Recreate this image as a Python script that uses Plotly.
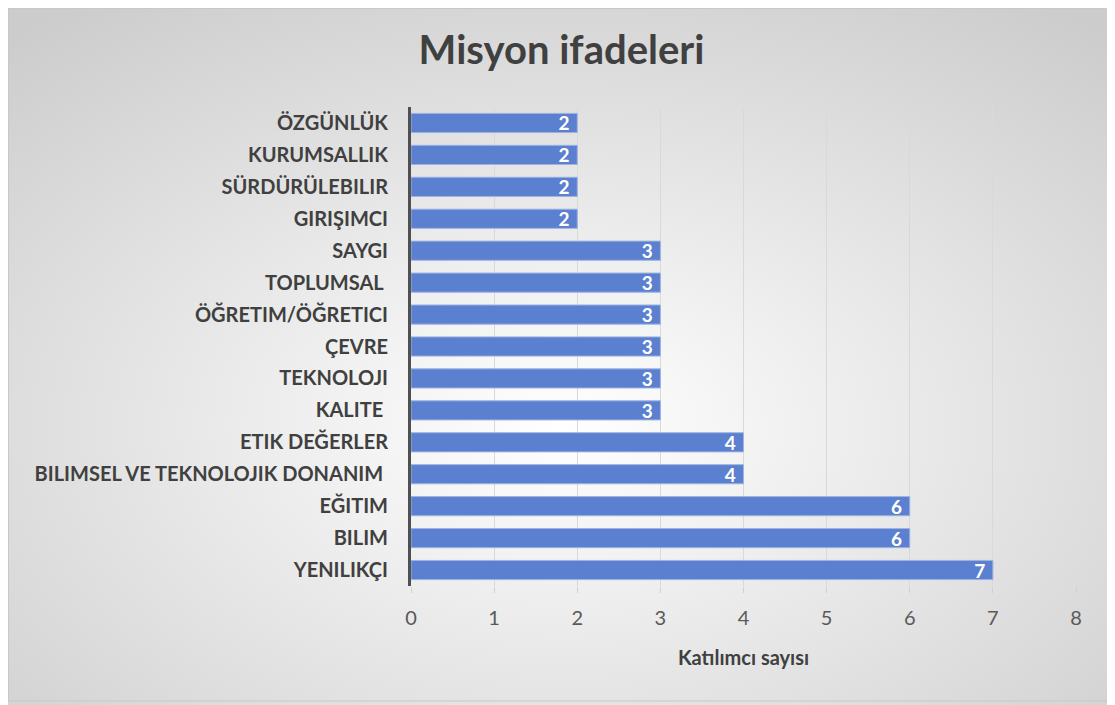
import base64
import plotly.graph_objects as go

# data, top to bottom as in the chart
categories = [
    "ÖZGÜNLÜK", "KURUMSALLIK", "SÜRDÜRÜLEBILIR", "GIRIŞIMCI", "SAYGI",
    "TOPLUMSAL ", "ÖĞRETIM/ÖĞRETICI", "ÇEVRE", "TEKNOLOJI", "KALITE ",
    "ETIK DEĞERLER", "BILIMSEL VE TEKNOLOJIK DONANIM ", "EĞITIM", "BILIM", "YENILIKÇI",
]
counts = [2, 2, 2, 2, 3, 3, 3, 3, 3, 3, 4, 4, 6, 6, 7]
x_ticks = [0, 1, 2, 3, 4, 5, 6, 7, 8]

# page body has an 8px margin, so the figure is a bit smaller than the window
W, H = 1107, 697
L, R, T, B = 403, 39, 99, 119
pw, ph = W - L - R, H - T - B

# radial grey background like the office chart style
svg = (
    '<svg xmlns="http://www.w3.org/2000/svg" width="1107" height="697" preserveAspectRatio="none">'
    '<defs><radialGradient id="g" cx="50%" cy="60%" r="75%">'
    '<stop offset="0%" stop-color="#ffffff"/><stop offset="100%" stop-color="#cccccc"/>'
    '</radialGradient></defs>'
    '<rect x="0" y="0" width="1107" height="697" fill="url(#g)"/></svg>'
)
bg = "data:image/svg+xml;base64," + base64.b64encode(svg.encode()).decode()

fig = go.Figure()
fig.add_trace(go.Bar(
    x=counts,
    y=categories,
    orientation="h",
    marker=dict(color="#5b80cf", line=dict(color="#9db3e3", width=1)),
    text=[f"{v}\u00a0" for v in counts],
    textposition="inside",
    insidetextanchor="end",
    textangle=0,
    constraintext="none",
    textfont=dict(family="Lato", size=19, color="white", weight="bold"),
    width=0.6,
    hoverinfo="x+y",
))

fig.update_layout(
    width=W, height=H,
    margin=dict(l=L, r=R, t=T, b=B),
    paper_bgcolor="#e6e6e6",
    plot_bgcolor="rgba(0,0,0,0)",
    showlegend=False,
    title=dict(text="<b>Misyon ifadeleri</b>", x=0.5, xanchor="center",
               y=1 - 42 / H, yanchor="middle",
               font=dict(family="Lato", size=40, color="#404040")),
    images=[dict(source=bg, xref="paper", yref="paper",
                 x=-L / pw, y=1 + T / ph, sizex=W / pw, sizey=H / ph,
                 xanchor="left", yanchor="top", sizing="stretch", layer="below")],
    shapes=[dict(type="rect", xref="paper", yref="paper",
                 x0=-(L - 0.5) / pw, x1=1 + (R - 1) / pw,
                 y0=-(B - 4) / ph, y1=1 + (T - 0.5) / ph,
                 line=dict(color="#c8c8c8", width=1), layer="below")],
)

fig.update_xaxes(
    range=[0, 8], tickvals=x_ticks, showgrid=True, gridcolor="#d9d9d9", gridwidth=1,
    zeroline=False, ticks="outside", ticklen=6, tickcolor="#d0d0d0",
    ticklabelstandoff=8,
    tickfont=dict(family="Lato", size=20, color="#595959"),
    title=dict(text="<b>Katılımcı sayısı</b>", standoff=22,
               font=dict(family="Lato", size=20, color="#404040")),
)
fig.update_yaxes(
    categoryorder="array", categoryarray=categories, autorange="reversed",
    showline=True, linecolor="#505050", linewidth=3, showgrid=False,
    ticklabelstandoff=16,
    tickfont=dict(family="Lato", size=20, color="#404040", weight="bold"),
)

fig.write_html("out.html")
